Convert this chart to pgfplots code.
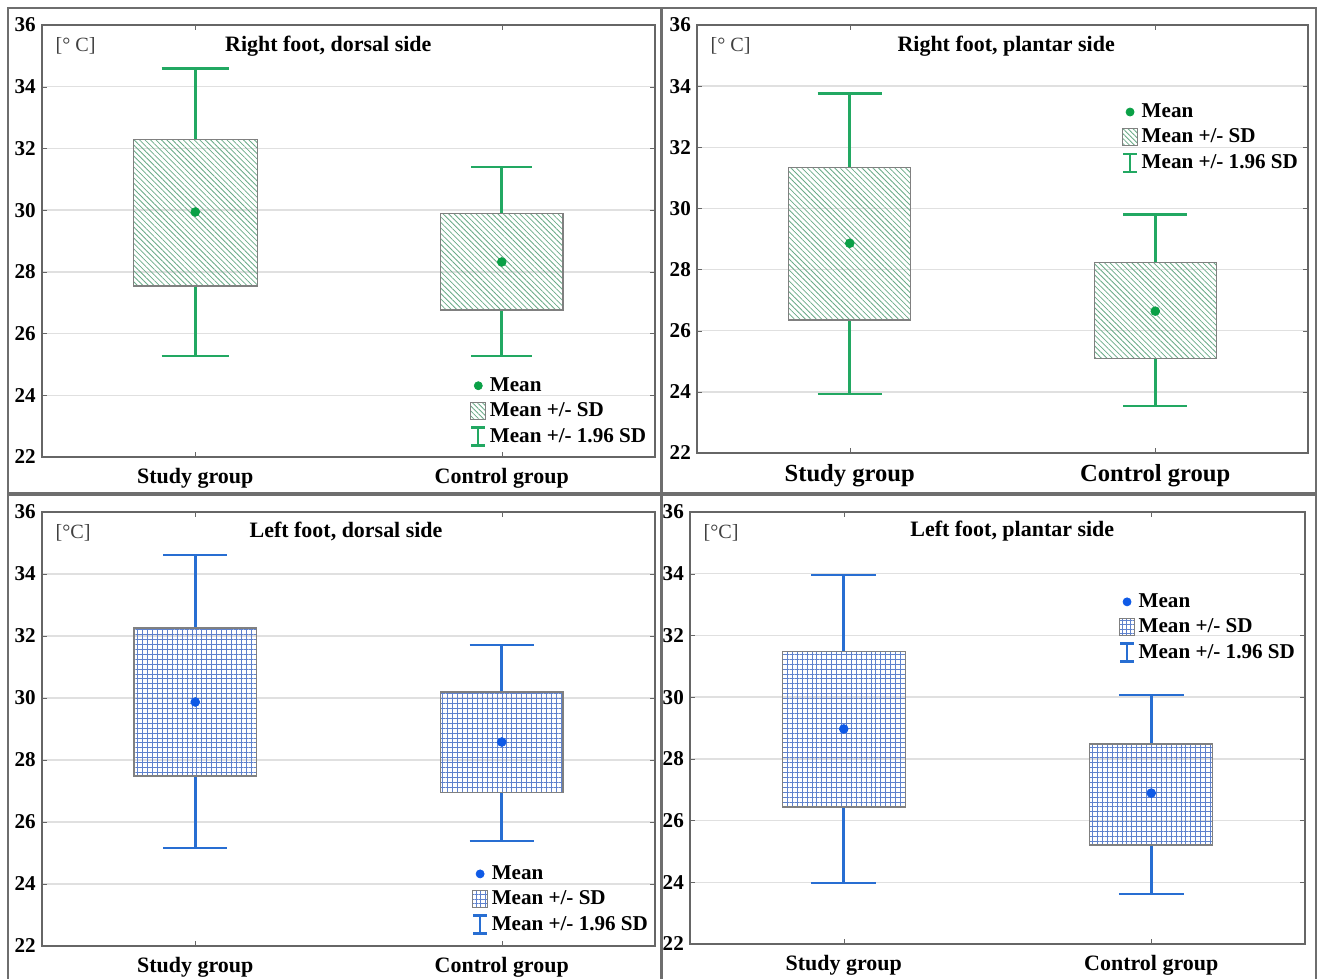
\documentclass[border=0pt]{standalone}
\usepackage{fontspec}
\setmainfont{Liberation Serif}
\usepackage{pgfplots}
\pgfplotsset{compat=1.18}
\usetikzlibrary{patterns.meta}
\definecolor{gw}{RGB}{34,168,98}
\definecolor{gm}{RGB}{10,160,70}
\definecolor{gp}{RGB}{105,170,135}
\definecolor{bw}{RGB}{40,110,210}
\definecolor{bm}{RGB}{15,90,230}
\definecolor{bp}{RGB}{95,130,205}
\definecolor{frame}{RGB}{110,110,110}

\pgfplotsset{
  panel/.style={
    scale only axis,
    xmin=-0.5, xmax=1.5, ymin=22, ymax=36,
    ytick={22,24,...,36}, xtick={0,1},
    xticklabels={Study group, Control group},
    ymajorgrids, grid style={black!12, line width=0.8pt},
    axis line style={black!60, line width=0.8pt},
    tick style={black!60},
    major tick length=3pt,
    /pgf/number format/assume math mode=true,
    tick label style={font=\fontsize{12}{14}\selectfont\bfseries},
    xticklabel style={font=\fontsize{12.5}{14}\selectfont\bfseries, yshift=-1.1mm},
    legend style={draw=none, fill=none, anchor=north west,
      font=\fontsize{12}{14}\selectfont\bfseries, row sep=1pt,
      inner sep=1pt},
    legend cell align=left,
  },
  gbox/.style={draw=black!50, line width=0.7pt,
      pattern={Lines[angle=-45,distance=2.2pt,line width=0.45pt]}, pattern color=gp},
  bbox/.style={draw=black!50, line width=0.7pt,
      pattern={Hatch[angle=0,distance=2.8pt,line width=0.4pt]}, pattern color=bp},
  gwh/.style={draw=gw, line width=1.5pt, mark=none},
  bwh/.style={draw=bw, line width=1.5pt, mark=none},
}
\newcommand{\legendset}[3]{%
  \addlegendimage{legend image code/.code={\fill[#1] (0.17cm,0cm) circle (2.3pt);}}
  \addlegendentry{Mean}
  \addlegendimage{legend image code/.code={\draw[black!50, line width=0.5pt, pattern=#2] (0.02cm,-0.17cm) rectangle (0.32cm,0.17cm);}}
  \addlegendentry{Mean +/- SD}
  \addlegendimage{legend image code/.code={\draw[#3, line width=1.3pt] (0.17cm,-0.18cm)--(0.17cm,0.18cm) (0.03cm,-0.18cm)--(0.31cm,-0.18cm) (0.03cm,0.18cm)--(0.31cm,0.18cm);}}
  \addlegendentry{Mean +/- 1.96 SD}
}

\begin{document}
\begin{tikzpicture}
\useasboundingbox (0,0) rectangle (26.44,19.58);
% panel frames
\draw[frame, line width=1pt] (0.16,9.72) rectangle (13.22,19.42);
\draw[frame, line width=1pt] (13.24,9.72) rectangle (26.32,19.42);
\draw[frame, line width=1pt] (0.16,-0.1) rectangle (13.22,9.68);
\draw[frame, line width=1pt] (13.24,-0.1) rectangle (26.32,9.68);

% ---------- Top left
\begin{axis}[panel, at={(0.84cm,10.44cm)}, anchor=south west,
  width=12.26cm, height=8.64cm,
  legend style={at={(0.695,0.197)}}]
\addplot[gwh, forget plot] coordinates {(0,32.30) (0,34.60)};
\addplot[gwh, forget plot] coordinates {(-0.11,34.60) (0.11,34.60)};
\addplot[gwh, forget plot] coordinates {(0,27.54) (0,25.27)};
\addplot[gwh, forget plot] coordinates {(-0.11,25.27) (0.11,25.27)};
\addplot[gbox, forget plot] coordinates {(-0.2025,27.54) (0.2025,27.54) (0.2025,32.30) (-0.2025,32.30)} -- cycle;
\addplot[gwh, forget plot] coordinates {(1,29.90) (1,31.40)};
\addplot[gwh, forget plot] coordinates {(0.90,31.40) (1.10,31.40)};
\addplot[gwh, forget plot] coordinates {(1,26.76) (1,25.27)};
\addplot[gwh, forget plot] coordinates {(0.90,25.27) (1.10,25.27)};
\addplot[gbox, forget plot] coordinates {(0.80,26.76) (1.20,26.76) (1.20,29.90) (0.80,29.90)} -- cycle;
\addplot[only marks, mark=*, mark size=2.5pt, gm, forget plot] coordinates {(0,29.94) (1,28.32)};
\legendset{gm}{{Lines[angle=-45,distance=2pt,line width=0.45pt]}, pattern color=gp}{gw}
\node[anchor=west, font=\fontsize{11.5}{13}\selectfont, black!75] at (rel axis cs:0.012,0.952) {[° C]};
\node[font=\fontsize{12.5}{14}\selectfont\bfseries] at (rel axis cs:0.467,0.95) {Right foot, dorsal side};
\end{axis}

% ---------- Top right
\begin{axis}[panel, at={(13.94cm,10.52cm)}, anchor=south west,
  width=12.22cm, height=8.56cm,
  xticklabel style={font=\fontsize{14}{16}\selectfont\bfseries},
  legend style={at={(0.692,0.829)}}]
\addplot[gwh, forget plot] coordinates {(0,31.35) (0,33.76)};
\addplot[gwh, forget plot] coordinates {(-0.105,33.76) (0.105,33.76)};
\addplot[gwh, forget plot] coordinates {(0,26.35) (0,23.93)};
\addplot[gwh, forget plot] coordinates {(-0.105,23.93) (0.105,23.93)};
\addplot[gbox, forget plot] coordinates {(-0.20,26.35) (0.20,26.35) (0.20,31.35) (-0.20,31.35)} -- cycle;
\addplot[gwh, forget plot] coordinates {(1,28.24) (1,29.81)};
\addplot[gwh, forget plot] coordinates {(0.895,29.81) (1.105,29.81)};
\addplot[gwh, forget plot] coordinates {(1,25.10) (1,23.54)};
\addplot[gwh, forget plot] coordinates {(0.895,23.54) (1.105,23.54)};
\addplot[gbox, forget plot] coordinates {(0.80,25.10) (1.20,25.10) (1.20,28.24) (0.80,28.24)} -- cycle;
\addplot[only marks, mark=*, mark size=2.5pt, gm, forget plot] coordinates {(0,28.86) (1,26.64)};
\legendset{gm}{{Lines[angle=-45,distance=2pt,line width=0.45pt]}, pattern color=gp}{gw}
\node[anchor=west, font=\fontsize{11.5}{13}\selectfont, black!75] at (rel axis cs:0.012,0.952) {[° C]};
\node[font=\fontsize{12.5}{14}\selectfont\bfseries] at (rel axis cs:0.506,0.95) {Right foot, plantar side};
\end{axis}

% ---------- Bottom left
\begin{axis}[panel, at={(0.84cm,0.66cm)}, anchor=south west,
  width=12.26cm, height=8.68cm,
  legend style={at={(0.698,0.198)}}]
\addplot[bwh, forget plot] coordinates {(0,32.26) (0,34.61)};
\addplot[bwh, forget plot] coordinates {(-0.105,34.61) (0.105,34.61)};
\addplot[bwh, forget plot] coordinates {(0,27.48) (0,25.16)};
\addplot[bwh, forget plot] coordinates {(-0.105,25.16) (0.105,25.16)};
\addplot[bbox, forget plot] coordinates {(-0.20,27.48) (0.20,27.48) (0.20,32.26) (-0.20,32.26)} -- cycle;
\addplot[bwh, forget plot] coordinates {(1,30.19) (1,31.71)};
\addplot[bwh, forget plot] coordinates {(0.895,31.71) (1.105,31.71)};
\addplot[bwh, forget plot] coordinates {(1,26.94) (1,25.39)};
\addplot[bwh, forget plot] coordinates {(0.895,25.39) (1.105,25.39)};
\addplot[bbox, forget plot] coordinates {(0.80,26.94) (1.20,26.94) (1.20,30.19) (0.80,30.19)} -- cycle;
\addplot[only marks, mark=*, mark size=2.5pt, bm, forget plot] coordinates {(0,29.87) (1,28.58)};
\legendset{bm}{{Hatch[angle=0,distance=2.4pt,line width=0.4pt]}, pattern color=bp}{bw}
\node[anchor=west, font=\fontsize{11.5}{13}\selectfont, black!75] at (rel axis cs:0.012,0.952) {[°C]};
\node[font=\fontsize{12.5}{14}\selectfont\bfseries] at (rel axis cs:0.496,0.955) {Left foot, dorsal side};
\end{axis}

% ---------- Bottom right
\begin{axis}[panel, at={(13.80cm,0.70cm)}, anchor=south west,
  width=12.30cm, height=8.64cm,
  legend style={at={(0.694,0.824)}}]
\addplot[bwh, forget plot] coordinates {(0,31.49) (0,33.96)};
\addplot[bwh, forget plot] coordinates {(-0.105,33.96) (0.105,33.96)};
\addplot[bwh, forget plot] coordinates {(0,26.44) (0,23.98)};
\addplot[bwh, forget plot] coordinates {(-0.105,23.98) (0.105,23.98)};
\addplot[bbox, forget plot] coordinates {(-0.20,26.44) (0.20,26.44) (0.20,31.49) (-0.20,31.49)} -- cycle;
\addplot[bwh, forget plot] coordinates {(1,28.48) (1,30.07)};
\addplot[bwh, forget plot] coordinates {(0.895,30.07) (1.105,30.07)};
\addplot[bwh, forget plot] coordinates {(1,25.21) (1,23.62)};
\addplot[bwh, forget plot] coordinates {(0.895,23.62) (1.105,23.62)};
\addplot[bbox, forget plot] coordinates {(0.80,25.21) (1.20,25.21) (1.20,28.48) (0.80,28.48)} -- cycle;
\addplot[only marks, mark=*, mark size=2.5pt, bm, forget plot] coordinates {(0,28.97) (1,26.89)};
\legendset{bm}{{Hatch[angle=0,distance=2.4pt,line width=0.4pt]}, pattern color=bp}{bw}
\node[anchor=west, font=\fontsize{11.5}{13}\selectfont, black!75] at (rel axis cs:0.012,0.952) {[°C]};
\node[font=\fontsize{12.5}{14}\selectfont\bfseries] at (rel axis cs:0.524,0.955) {Left foot, plantar side};
\end{axis}
\end{tikzpicture}
\end{document}
